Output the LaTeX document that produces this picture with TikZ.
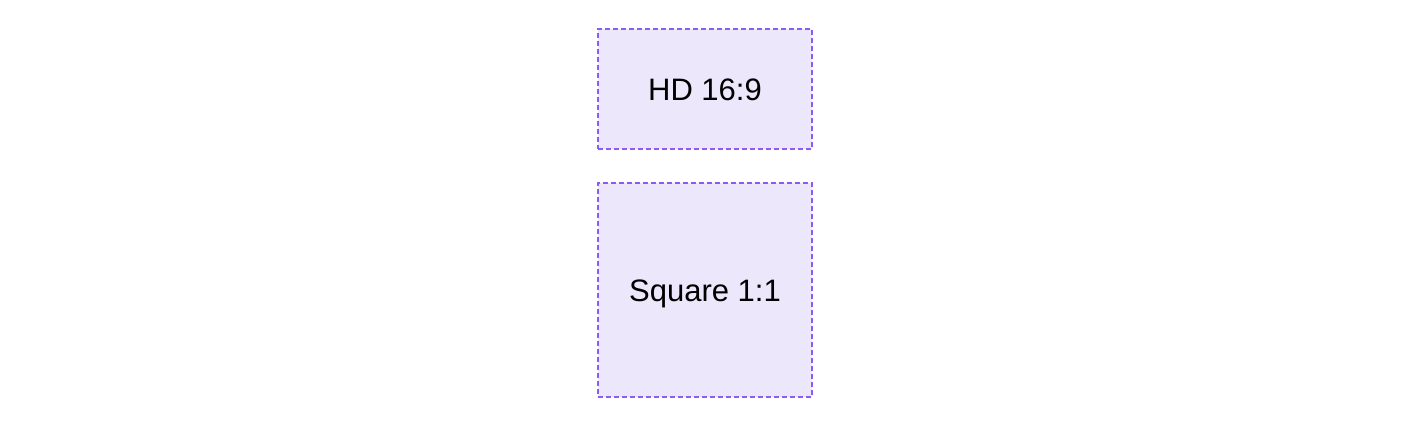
\documentclass[tikz,border=0pt]{standalone}
\usepackage{fontspec}
\setmainfont{Liberation Sans}
\begin{document}
\begin{tikzpicture}[x=1pt,y=-1pt,
  boxstyle/.style={draw=boxline, fill=boxfill, line width=1.5pt, dash pattern=on 5pt off 3pt, inner sep=0pt, font=\fontsize{31}{36}\selectfont}]
\definecolor{boxline}{HTML}{8A5CF5}
\definecolor{boxfill}{HTML}{ECE7FA}
\useasboundingbox (0,0) rectangle (1408,424);
\node[boxstyle, minimum width=214pt, minimum height=120pt, text depth=2pt, text height=25pt] (hd) at (705,89) {HD 16:9};
\node[boxstyle, minimum width=214pt, minimum height=214pt, text depth=2pt, text height=25pt] (sq) at (705,290) {Square 1:1};
\end{tikzpicture}
\end{document}
